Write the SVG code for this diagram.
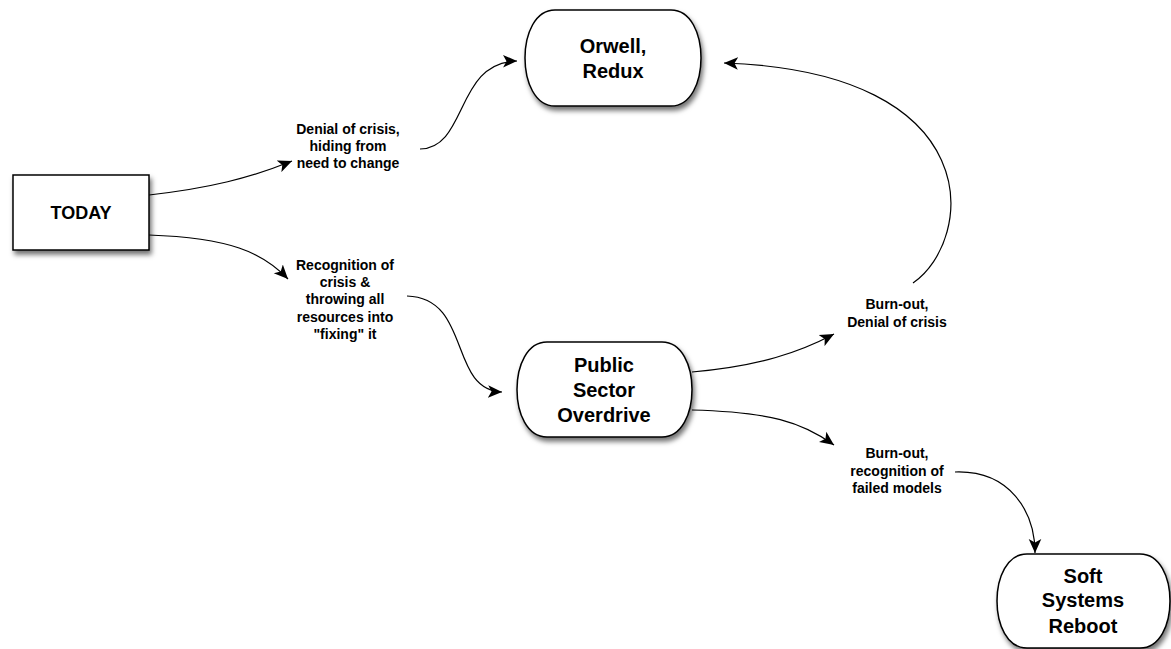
<svg xmlns="http://www.w3.org/2000/svg" width="1171" height="649" viewBox="0 0 1171 649">
<style>
.node{fill:#fff;stroke:#000;stroke-width:1.5;filter:url(#sh)}
.nt{font-family:"Liberation Sans",Arial,sans-serif;font-weight:bold;font-size:20px;text-anchor:middle;fill:#000}
.lt{font-family:"Liberation Sans",Arial,sans-serif;font-weight:bold;font-size:14px;text-anchor:middle;fill:#000}
.c{fill:none;stroke:#000;stroke-width:1.2}
</style>
<defs>
<filter id="sh" x="-20%" y="-20%" width="140%" height="150%">
<feDropShadow dx="2" dy="4" stdDeviation="2.5" flood-color="#000" flood-opacity="0.55"/>
</filter>
<marker id="ah" viewBox="0 0 10 10" refX="10" refY="5" markerWidth="14" markerHeight="14" markerUnits="userSpaceOnUse" orient="auto">
<path d="M0,0.5 L10,5 L0,9.5 L2.5,5 Z" fill="#000"/>
</marker>
</defs>
<g id="connectors">
<path class="c" d="M149,195 C210,188 250,178 292,161" marker-end="url(#ah)"/>
<path class="c" d="M420,149 C468,148 455,62 517,61" marker-end="url(#ah)"/>
<path class="c" d="M149,235 C230,238 262,252 288,279" marker-end="url(#ah)"/>
<path class="c" d="M407,296 C472,298 448,390 502,392" marker-end="url(#ah)"/>
<path class="c" d="M692,372 C760,366 800,352 834,334" marker-end="url(#ah)"/>
<path class="c" d="M913,283 C975,240 990,72 724,63" marker-end="url(#ah)"/>
<path class="c" d="M692,410 C770,412 802,422 834,445" marker-end="url(#ah)"/>
<path class="c" d="M955,472 C1010,470 1035,512 1035,553" marker-end="url(#ah)"/>
</g>
<g id="today">
<rect class="node" x="13" y="175" width="136" height="75"/>
<text class="nt" x="81" y="219" style="font-size:18px">TODAY</text>
</g>
<g id="orwell">
<path class="node" d="M555,10 H671 C711,10 711,106 671,106 H555 C515,106 515,10 555,10 Z"/>
<text class="nt" x="613" y="53">Orwell,</text>
<text class="nt" x="613" y="78">Redux</text>
</g>
<g id="public">
<path class="node" d="M547,342 H662 C702,342 702,437 662,437 H547 C507,437 507,342 547,342 Z"/>
<text class="nt" x="604" y="372">Public</text>
<text class="nt" x="604" y="397">Sector</text>
<text class="nt" x="604" y="422">Overdrive</text>
</g>
<g id="soft">
<path class="node" d="M1027,554 H1140 C1180,554 1180,648 1140,648 H1027 C987,648 987,554 1027,554 Z"/>
<text class="nt" x="1083" y="583">Soft</text>
<text class="nt" x="1083" y="607">Systems</text>
<text class="nt" x="1083" y="633">Reboot</text>
</g>
<g id="labels">
<text class="lt" x="348" y="134">Denial of crisis,</text>
<text class="lt" x="348" y="151">hiding from</text>
<text class="lt" x="348" y="168">need to change</text>
<text class="lt" x="345" y="270">Recognition of</text>
<text class="lt" x="345" y="287">crisis &amp;</text>
<text class="lt" x="345" y="304">throwing all</text>
<text class="lt" x="345" y="322">resources into</text>
<text class="lt" x="345" y="339">"fixing" it</text>
<text class="lt" x="897" y="309">Burn-out,</text>
<text class="lt" x="897" y="327">Denial of crisis</text>
<text class="lt" x="897" y="458">Burn-out,</text>
<text class="lt" x="897" y="476">recognition of</text>
<text class="lt" x="897" y="493">failed models</text>
</g>
</svg>
